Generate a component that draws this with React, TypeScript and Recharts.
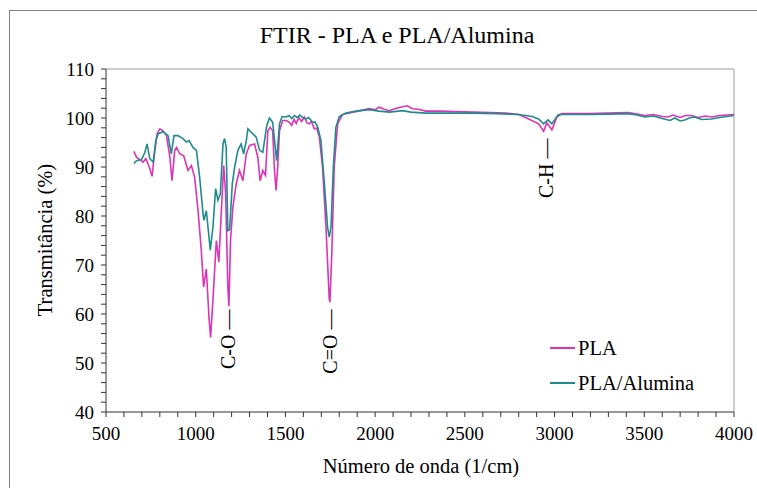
import React from "react";
import { LineChart, Line, XAxis, YAxis, ReferenceLine, ReferenceDot } from "recharts";

// ---- Data ----
const plaWavenumber = [
  655, 670, 689, 707, 722, 741, 757, 772, 785, 800, 818, 837, 856, 868, 883, 893, 911, 933, 957, 976,
  994, 1013, 1031, 1044, 1059, 1074, 1083, 1096, 1115, 1129, 1143, 1156, 1167, 1179, 1185, 1194, 1207,
  1226, 1244, 1263, 1282, 1300, 1328, 1346, 1359, 1374, 1389, 1402, 1415, 1429, 1439, 1448, 1457, 1467,
  1485, 1504, 1522, 1535, 1548, 1560, 1575, 1590, 1605, 1620, 1633, 1645, 1661, 1675, 1689, 1707, 1726,
  1744, 1748, 1759, 1772, 1791, 1818, 1850, 1874, 1920, 1967, 2000, 2022, 2050, 2078, 2110, 2152, 2180,
  2207, 2240, 2282, 2356, 2450, 2541, 2640, 2726, 2800, 2856, 2911, 2939, 2957, 2985, 3013, 3041, 3189,
  3300, 3411, 3460, 3504, 3550, 3600, 3633, 3660, 3700, 3730, 3763, 3800, 3840, 3874, 3920, 4000,
];
const plaTransmittance = [
  93.2, 92.0, 91.5, 91.0, 91.7, 90.0, 88.1, 93.4, 96.8, 97.8, 97.4, 96.4, 92.0, 87.2, 93.4, 94.0, 92.7, 92.3, 89.3, 90.3,
  87.9, 81.1, 73.0, 65.5, 69.2, 59.3, 55.2, 62.8, 75.0, 70.6, 81.1, 90.3, 84.5, 65.5, 61.6, 75.0, 81.8,
  86.6, 89.3, 87.2, 92.7, 94.4, 94.7, 92.0, 87.2, 89.3, 88.3, 97.4, 98.1, 97.4, 89.3, 85.2, 90.0, 97.4,
  99.5, 99.5, 99.1, 98.5, 99.7, 98.9, 100.1, 99.3, 100.2, 99.0, 98.8, 99.3, 97.8, 97.9, 96.1, 90.0, 77.7,
  63.2, 62.4, 73.0, 90.0, 98.8, 100.7, 101.0, 101.2, 101.5, 101.9, 101.7, 102.2, 101.8, 101.5, 101.9, 102.3, 102.5,
  101.9, 101.8, 101.4, 101.4, 101.3, 101.2, 101.1, 101.0, 100.7, 99.8, 98.8, 97.3, 99.0, 97.6, 100.2, 100.9, 100.9,
  101.0, 101.1, 100.8, 100.5, 100.7, 100.3, 100.2, 100.6, 100.1, 100.5, 100.5, 100.1, 100.4, 100.2, 100.5, 100.7,
];

const aluminaWavenumber = [
  655, 670, 698, 717, 729, 744, 763, 778, 791, 818, 846, 864, 879, 901, 929, 948, 963, 985, 1004, 1022,
  1041, 1046, 1059, 1078, 1081, 1096, 1111, 1124, 1137, 1152, 1161, 1170, 1179, 1189, 1204, 1217, 1235,
  1253, 1267, 1282, 1291, 1309, 1337, 1356, 1374, 1396, 1411, 1429, 1451, 1467, 1481, 1504, 1520, 1535,
  1550, 1565, 1580, 1600, 1615, 1630, 1652, 1665, 1680, 1698, 1717, 1735, 1744, 1754, 1767, 1781, 1800,
  1837, 1911, 1967, 2022, 2080, 2152, 2200, 2282, 2400, 2541, 2680, 2800, 2874, 2911, 2939, 2963, 2985,
  3013, 3022, 3189, 3300, 3411, 3460, 3504, 3550, 3600, 3643, 3670, 3700, 3726, 3750, 3781, 3820, 3874,
  3920, 4000,
];
const aluminaTransmittance = [
  90.7, 91.3, 91.5, 93.0, 94.7, 91.7, 91.0, 95.4, 96.8, 97.2, 96.4, 92.7, 96.4, 96.4, 95.8, 95.1, 95.4, 94.0, 93.4, 87.9,
  80.4, 79.1, 81.1, 74.3, 73.0, 77.7, 85.6, 83.2, 84.5, 94.7, 95.8, 94.0, 77.0, 77.2, 86.6, 90.0, 93.4,
  94.7, 92.7, 95.4, 97.8, 97.1, 96.1, 93.4, 93.0, 98.5, 100.0, 99.1, 91.3, 98.8, 100.3, 100.2, 100.5, 99.9,
  100.5, 100.1, 100.6, 100.0, 99.8, 100.1, 99.1, 99.2, 98.1, 95.4, 86.6, 77.7, 75.7, 77.7, 90.0, 98.1, 100.3,
  101.0, 101.5, 101.7, 101.4, 101.2, 101.5, 101.2, 101.0, 101.0, 101.0, 100.9, 100.7, 100.3, 99.8, 98.8, 99.6, 98.8,
  100.3, 100.7, 100.7, 100.8, 100.9, 100.6, 100.2, 100.4, 99.9, 99.5, 100.0, 99.4, 99.6, 100.0, 100.2, 99.7, 99.8,
  100.1, 100.5,
];

const xTicks = [500, 600, 700, 800, 900, 1000, 1100, 1200, 1300, 1400, 1500, 1600, 1700, 1800, 1900, 2000,
  2100, 2200, 2300, 2400, 2500, 2600, 2700, 2800, 2900, 3000, 3100, 3200, 3300, 3400, 3500, 3600, 3700,
  3800, 3900, 4000];
const xTickLabels = ["500", "1000", "1500", "2000", "2500", "3000", "3500", "4000"];
const yTicks = [40, 42, 44, 46, 48, 50, 52, 54, 56, 58, 60, 62, 64, 66, 68, 70, 72, 74, 76, 78, 80, 82, 84,
  86, 88, 90, 92, 94, 96, 98, 100, 102, 104, 106, 108, 110];
const yTickLabels = ["40", "50", "60", "70", "80", "90", "100", "110"];

const annotationLabels = ["C-O \u2014", "C=O \u2014", "C-H \u2014"];
const annotationWavenumber = [1180, 1750, 2955];
const annotationTransmittance = [60.9, 60.9, 95.8];

const seriesNames = ["PLA", "PLA/Alumina"];
const colors = ["#DB34B6", "#1E8C8C"];

const plaData = plaWavenumber.map((x, i) => ({ x, t: plaTransmittance[i] }));
const aluminaData = aluminaWavenumber.map((x, i) => ({ x, t: aluminaTransmittance[i] }));

const FONT = "'Liberation Serif', 'Times New Roman', Tinos, serif";

const makeAnnotation = (label: string) => (props: any) => {
  const { cx, cy } = props;
  return (
    <text
      x={cx}
      y={cy}
      transform={`rotate(-90 ${cx} ${cy})`}
      textAnchor="end"
      dominantBaseline="central"
      fontFamily={FONT}
      fontSize={20}
      fill="#000"
    >
      {label}
    </text>
  );
};

export default function App() {
  return (
    <div
      style={{
        position: "absolute",
        left: 0,
        top: 0,
        width: 757,
        height: 488,
        overflow: "hidden",
        background: "#fff",
        fontFamily: FONT,
      }}
    >
      <div
        style={{
          position: "absolute",
          left: 9,
          top: 10,
          width: 800,
          height: 600,
          border: "1px solid #808080",
        }}
      />
      <div
        style={{
          position: "absolute",
          left: 397,
          top: 35,
          transform: "translate(-50%, -50%)",
          whiteSpace: "nowrap",
          fontSize: 24,
          color: "#000",
        }}
      >
        FTIR - PLA e PLA/Alumina
      </div>
      <div
        style={{
          position: "absolute",
          left: 45,
          top: 240,
          transform: "translate(-50%, -50%) rotate(-90deg)",
          whiteSpace: "nowrap",
          fontSize: 20.5,
          color: "#000",
        }}
      >
        Transmitância (%)
      </div>
      <div
        style={{
          position: "absolute",
          left: 421,
          top: 466,
          transform: "translate(-50%, -50%)",
          whiteSpace: "nowrap",
          fontSize: 20.5,
          color: "#000",
        }}
      >
        Número de onda (1/cm)
      </div>
      <div style={{ position: "absolute", left: 0, top: 0 }}>
        <LineChart
          width={757}
          height={488}
          margin={{ top: 69, right: 23, bottom: 46, left: 0 }}
        >
          <XAxis
            type="number"
            dataKey="x"
            domain={[500, 4000]}
            ticks={xTicks}
            interval={0}
            allowDataOverflow
            tickFormatter={(v: number) => (xTickLabels.includes(String(v)) ? String(v) : "")}
            tick={{ fill: "#000", fontSize: 19, fontFamily: FONT }}
            tickSize={5}
            tickMargin={10}
            height={30}
            stroke="#333"
          />
          <YAxis
            type="number"
            domain={[40, 110]}
            ticks={yTicks}
            interval={0}
            allowDataOverflow
            tickFormatter={(v: number) => (yTickLabels.includes(String(v)) ? String(v) : "")}
            tick={{ fill: "#000", fontSize: 19, fontFamily: FONT }}
            tickSize={5}
            tickMargin={7}
            width={106}
            stroke="#333"
          />
          <ReferenceLine y={110} stroke="#9a9a9a" strokeWidth={1} />
          <ReferenceLine x={4000} stroke="#9a9a9a" strokeWidth={1} />
          <Line
            data={plaData}
            dataKey="t"
            name={seriesNames[0]}
            stroke={colors[0]}
            strokeWidth={1.6}
            dot={false}
            isAnimationActive={false}
            type="linear"
          />
          <Line
            data={aluminaData}
            dataKey="t"
            name={seriesNames[1]}
            stroke={colors[1]}
            strokeWidth={1.6}
            dot={false}
            isAnimationActive={false}
            type="linear"
          />
          {annotationLabels.map((label, i) => (
            <ReferenceDot
              key={label}
              x={annotationWavenumber[i]}
              y={annotationTransmittance[i]}
              r={0}
              shape={makeAnnotation(label)}
            />
          ))}
        </LineChart>
      </div>
      {seriesNames.map((name, i) => (
        <div
          key={name}
          style={{
            position: "absolute",
            left: 550,
            top: 336 + i * 35,
            height: 24,
            display: "flex",
            alignItems: "center",
            fontSize: 20.5,
            color: "#000",
            whiteSpace: "nowrap",
          }}
        >
          <span
            style={{
              display: "inline-block",
              width: 25,
              height: 2,
              background: colors[i],
              marginRight: 3,
            }}
          />
          {name}
        </div>
      ))}
    </div>
  );
}
